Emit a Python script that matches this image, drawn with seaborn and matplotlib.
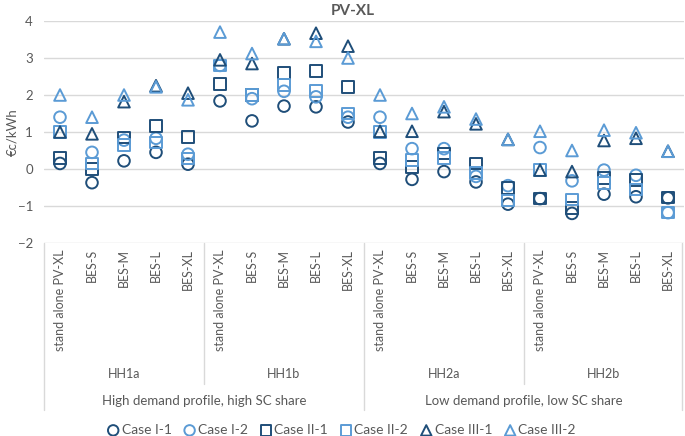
import matplotlib
matplotlib.use("Agg")
import matplotlib.pyplot as plt
import matplotlib.transforms as mtransforms
import pandas as pd
import seaborn as sns

groups = ["HH1a", "HH1b", "HH2a", "HH2b"]
configs = ["stand alone PV-XL", "BES-S", "BES-M", "BES-L", "BES-XL"]
profiles = ["High demand profile, high SC share", "Low demand profile, low SC share"]

case_i_1 = [0.15, -0.37, 0.22, 0.45, 0.13, 1.84, 1.30, 1.70, 1.68, 1.27,
            0.15, -0.28, -0.07, -0.35, -0.95, -0.80, -1.20, -0.68, -0.75, -0.78]
case_i_2 = [1.40, 0.45, 0.78, 0.83, 0.40, 2.80, 1.90, 2.10, 1.95, 1.40,
            1.40, 0.55, 0.55, -0.20, -0.45, 0.58, -0.32, -0.03, -0.17, -1.18]
case_ii_1 = [0.30, 0.00, 0.85, 1.17, 0.87, 2.30, 2.00, 2.60, 2.65, 2.22,
             0.30, 0.05, 0.42, 0.15, -0.52, -0.80, -1.06, -0.25, -0.30, -0.77]
case_ii_2 = [1.00, 0.15, 0.65, 0.72, 0.28, 2.80, 2.00, 2.27, 2.10, 1.50,
             1.00, 0.25, 0.30, -0.10, -0.85, -0.03, -0.82, -0.38, -0.55, -1.18]
case_iii_1 = [1.00, 0.95, 1.82, 2.25, 2.05, 2.95, 2.85, 3.52, 3.67, 3.32,
              1.02, 1.02, 1.55, 1.22, 0.80, -0.03, -0.07, 0.77, 0.83, 0.48]
case_iii_2 = [2.00, 1.40, 2.00, 2.22, 1.87, 3.70, 3.12, 3.52, 3.45, 3.00,
              2.00, 1.50, 1.68, 1.35, 0.80, 1.02, 0.50, 1.05, 0.98, 0.48]

series = {
    "Case I-1": case_i_1, "Case I-2": case_i_2,
    "Case II-1": case_ii_1, "Case II-2": case_ii_2,
    "Case III-1": case_iii_1, "Case III-2": case_iii_2,
}
styles = {
    "Case I-1": ("o", "#1f4e79"), "Case I-2": ("o", "#5b9bd5"),
    "Case II-1": ("s", "#1f4e79"), "Case II-2": ("s", "#5b9bd5"),
    "Case III-1": ("^", "#1f4e79"), "Case III-2": ("^", "#5b9bd5"),
}

keys = [f"{g}|{c}" for g in groups for c in configs]
df = pd.DataFrame({"slot": keys, **series}).melt(id_vars="slot", var_name="case", value_name="value")

sns.set_style("white")
plt.rcParams["font.family"] = ["Lato", "DejaVu Sans"]
grey = "#595959"

fig = plt.figure(figsize=(6.85, 4.36), dpi=100)
ax = fig.add_axes([44 / 685, 1 - 243 / 436, 640 / 685, 222 / 436])

for name in series:
    marker, col = styles[name]
    sns.scatterplot(data=df[df["case"] == name], x="slot", y="value", ax=ax,
                    marker=marker, color=col, facecolor="none", edgecolor=col,
                    s=70, linewidth=1.4, label=name, zorder=3)

ax.set_xlim(-0.5, len(keys) - 0.5)
ax.set_ylim(-2, 4)
ax.set_yticks(range(-2, 5))
ax.yaxis.grid(True, color="#d9d9d9", linewidth=1)
ax.set_axisbelow(True)
for s in ax.spines.values():
    s.set_visible(False)
ax.tick_params(axis="y", length=0, pad=8, labelsize=9.5, labelcolor=grey)
ax.set_xticks(range(len(keys)))
ax.set_xticklabels([])
ax.tick_params(axis="x", length=0)
ax.set_xlabel("")
ax.set_ylabel("€c/kWh", color=grey, fontsize=9.5)
ax.yaxis.set_label_coords(-0.040, 0.5)
ax.get_legend().remove()

# multi-level category axis
trans = mtransforms.blended_transform_factory(ax.transData, fig.transFigure)
fy = lambda py: 1 - py / 436
for i, k in enumerate(keys):
    ax.text(i, fy(249), k.split("|")[1], transform=trans, rotation=90,
            ha="center", va="top", fontsize=9, color=grey)
for j, g in enumerate(groups):
    ax.text(j * 5 + 2, fy(374), g, transform=trans, ha="center", va="center",
            fontsize=9, color=grey)
for j, p in enumerate(profiles):
    ax.text(j * 10 + 4.5, fy(401), p, transform=trans, ha="center", va="center",
            fontsize=9.5, color=grey)
for xb, bottom in [(-0.5, 410), (4.5, 384), (9.5, 410), (14.5, 384), (19.45, 410)]:
    ax.plot([xb, xb], [fy(243), fy(bottom)], transform=trans, color="#d9d9d9",
            linewidth=1, clip_on=False)

fig.text(0.515, fy(11), "PV-XL", ha="center", va="center", fontsize=11,
         fontweight="bold", color=grey)

handles, labels = ax.get_legend_handles_labels()
fig.legend(handles, labels, loc="center", bbox_to_anchor=(0.498, fy(430)), ncol=6,
           frameon=False, fontsize=10, handletextpad=0.1, columnspacing=0.8,
           handlelength=1.0, labelcolor=grey, markerscale=0.9)

fig.savefig("out.png", dpi=100)
